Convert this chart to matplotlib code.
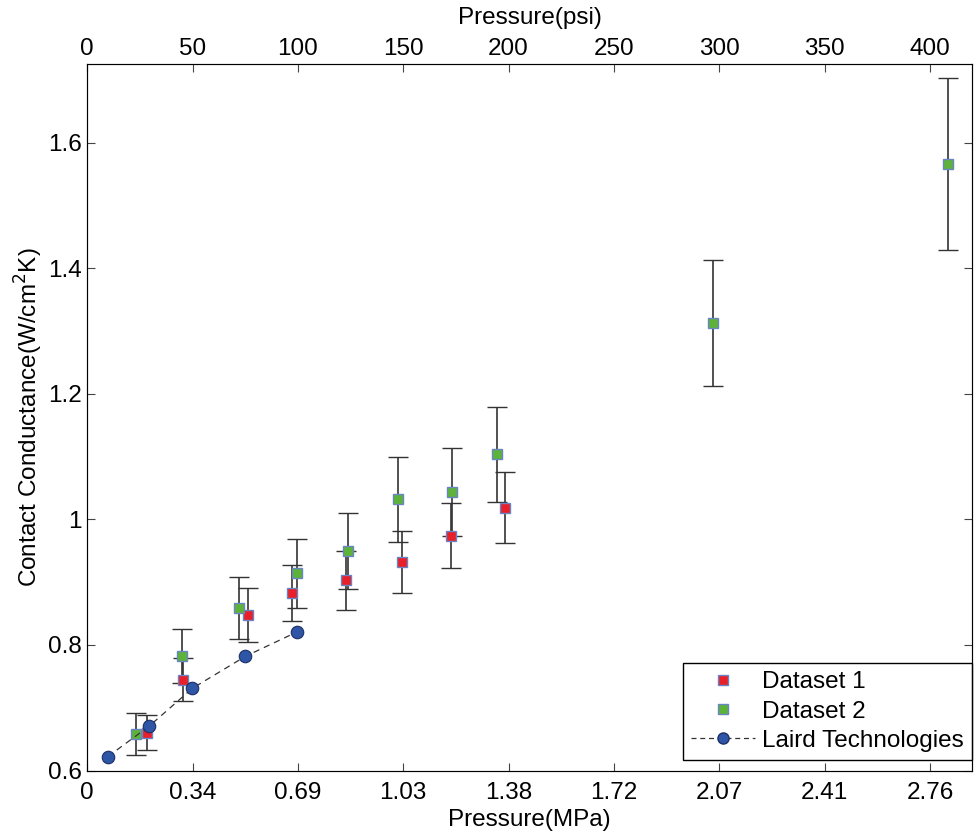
import matplotlib.pyplot as plt
from matplotlib.lines import Line2D

plt.rcParams['font.family'] = ['Liberation Sans', 'DejaVu Sans']

# pressure in psi, conductance in W/cm^2K
d1_psi = [28.4, 45.6, 76.3, 97.3, 123.0, 149.6, 172.8, 198.4]
d1_val = [0.660, 0.745, 0.848, 0.883, 0.903, 0.932, 0.974, 1.019]
d1_err = [0.028, 0.035, 0.043, 0.045, 0.047, 0.049, 0.052, 0.057]

d2_psi = [23.2, 45.0, 72.1, 99.5, 123.8, 147.6, 173.2, 194.3, 296.8, 408.7]
d2_val = [0.658, 0.782, 0.859, 0.914, 0.950, 1.032, 1.044, 1.104, 1.313, 1.567]
d2_err = [0.033, 0.043, 0.050, 0.055, 0.060, 0.068, 0.070, 0.076, 0.100, 0.137]

laird_psi = [9.7, 29.5, 49.9, 75.1, 99.7]
laird_val = [0.622, 0.671, 0.731, 0.782, 0.821]

psi_ticks = [0, 50, 100, 150, 200, 250, 300, 350, 400]
mpa_labels = ['0', '0.34', '0.69', '1.03', '1.38', '1.72', '2.07', '2.41', '2.76']

FS = 17.5
RED, GREEN, EDGE = '#e8202a', '#5db33a', '#6a85c4'

fig = plt.figure(figsize=(9.74, 8.32), dpi=100)
ax = fig.add_axes([0.0896, 0.0739, 0.9084, 0.8486])

ax.errorbar(d1_psi, d1_val, yerr=d1_err, fmt='s', color=RED, mfc=RED,
            mec=EDGE, mew=1.0, ms=7.5, ecolor='#333333', elinewidth=1.2,
            capsize=7, capthick=1.2, zorder=3)
ax.errorbar(d2_psi, d2_val, yerr=d2_err, fmt='s', color=GREEN, mfc=GREEN,
            mec=EDGE, mew=1.0, ms=7.5, ecolor='#333333', elinewidth=1.2,
            capsize=7, capthick=1.2, zorder=3)
ax.plot(laird_psi, laird_val, '--', color='#333333', lw=0.9, dashes=(5, 4),
        marker='o', ms=9, mfc='#2f56a6', mec='#1c2f66', mew=0.8, zorder=4)

ax.set_xlim(0, 420)
ax.set_ylim(0.6, 1.725)
ax.set_xticks(psi_ticks)
ax.set_xticklabels(mpa_labels)
ax.set_yticks([0.6, 0.8, 1.0, 1.2, 1.4, 1.6])
ax.set_yticklabels(['0.6', '0.8', '1', '1.2', '1.4', '1.6'])
ax.tick_params(direction='in', length=6, labelsize=FS, right=True, color='#444444', pad=4)
ax.tick_params(axis='x', pad=8)
ax.set_xlabel('Pressure(MPa)', fontsize=FS, labelpad=4)
ax.set_ylabel('Contact Conductance(W/cm$^2$K)', fontsize=FS, labelpad=2)
for s in ax.spines.values():
    s.set_color('#444444')

top = ax.twiny()
top.set_xlim(ax.get_xlim())
top.set_xticks(psi_ticks)
top.set_xticklabels([str(t) for t in psi_ticks])
top.tick_params(direction='in', length=6, labelsize=FS, color='#444444', pad=3)
top.set_xlabel('Pressure(psi)', fontsize=FS, labelpad=10)

handles = [
    Line2D([], [], ls='none', marker='s', ms=6.5, mfc=RED, mec=EDGE),
    Line2D([], [], ls='none', marker='s', ms=6.5, mfc=GREEN, mec=EDGE),
    Line2D([], [], ls='--', dashes=(4, 3), color='#333333', lw=0.9, marker='o',
           ms=8, mfc='#2f56a6', mec='#1c2f66'),
]
leg = ax.legend(handles, ['Dataset 1', 'Dataset 2', 'Laird Technologies'],
                loc='lower right', bbox_to_anchor=(1.0, 0.0142), fontsize=FS,
                frameon=True, fancybox=False, edgecolor='black', framealpha=1,
                borderpad=0.35, labelspacing=0.3, handlelength=2.6, handletextpad=0.3,
                borderaxespad=0.0)
leg.get_frame().set_linewidth(1.0)

fig.savefig('out.png', dpi=100)
